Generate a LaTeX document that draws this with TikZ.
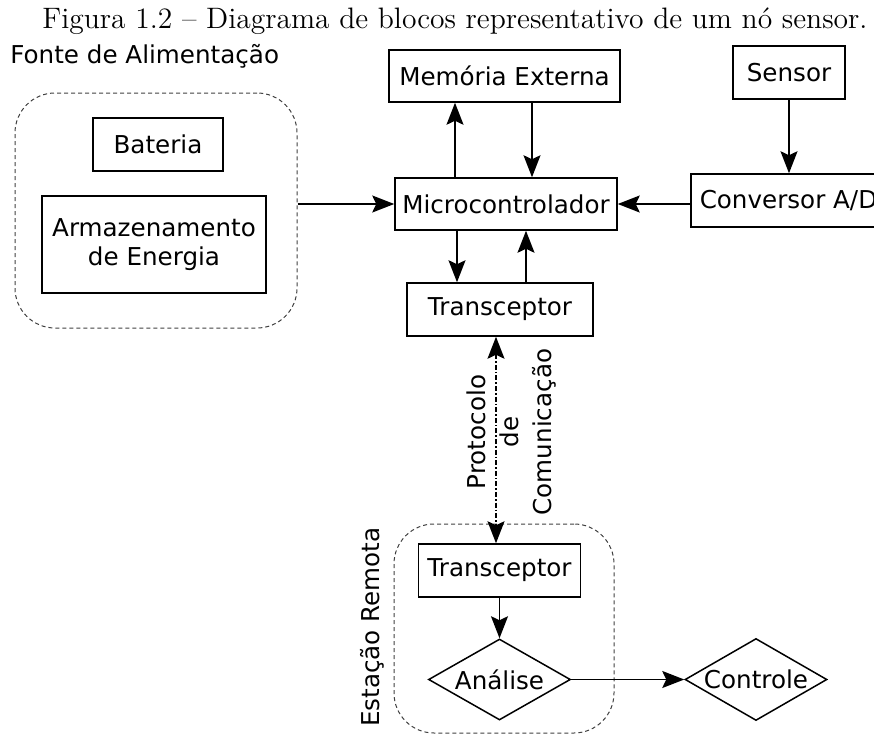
\documentclass[tikz,border=0pt]{standalone}
\usepackage{fontspec}
\usepackage{graphicx}
\usetikzlibrary{arrows.meta,shapes.geometric}
\newfontfamily\dv{DejaVu Sans}
\newcommand\dvf{\dv\fontsize{12.3}{14.5}\selectfont}
\newcommand\dvfp{\dv\fontsize{12.3}{16.5}\selectfont}
\tikzset{
  tip/.tip={Stealth[length=11pt,width=8.5pt,inset=2pt]},
  box/.style={draw, line width=0.75pt, inner sep=0pt, font=\dvf, align=center},
  arr/.style={line width=0.85pt, -tip},
  biarr/.style={line width=0.85pt, tip-tip},
  grp/.style={draw=black!75, line width=0.5pt, dash pattern=on 2pt off 1.5pt, rounded corners=20pt, inner sep=0pt},
  dec/.style={draw, diamond, line width=0.75pt, inner sep=0pt},
}
\begin{document}
\begin{tikzpicture}[x=0.5pt,y=-0.5pt]
\clip (0,0) rectangle (874,734);
% caption
\node[anchor=base, inner sep=0pt] (cap) at (455,28) {\resizebox{412.5pt}{!}{\fontsize{11}{13}\selectfont Figura 1.2 -- Diagrama de blocos representativo de um nó sensor.}};
% power group
\node[font=\dvf, anchor=base west, inner sep=0pt] (fonte) at (10,63) {Fonte de Alimentação};
\node[grp, minimum width=141pt, minimum height=117.5pt] (power) at (156,210.5) {};
\node[box, minimum width=65pt, minimum height=26.5pt] (bat) at (158,144.5) {Bateria};
\node[box, minimum width=112pt, minimum height=48.5pt] (arm) at (154,244.5) {Armazenamento\\de Energia};
% main blocks
\node[box, minimum width=115.5pt, minimum height=26pt] (mem) at (504.5,76) {Memória Externa};
\node[box, minimum width=56pt, minimum height=26.5pt] (sensor) at (789,72.5) {Sensor};
\node[box, minimum width=111pt, minimum height=26pt] (micro) at (506,204) {Microcontrolador};
\node[box, minimum width=97.5pt, minimum height=26.5pt] (conv) at (788.5,200.5) {Conversor A/D};
\node[box, minimum width=93pt, minimum height=26.5pt] (trx) at (500,309.5) {Transceptor};
% remote station
\node[grp, minimum width=110pt, minimum height=104.5pt] (remote) at (504,628.5) {};
\node[font=\dvf, rotate=90] (estacao) at (372,627) {Estação Remota};
\node[box, minimum width=81pt, minimum height=26.5pt] (rtrx) at (499.5,570.5) {Transceptor};
\node[dec, minimum width=71pt, minimum height=40.5pt, label={[font=\dvf]center:Análise}] (ana) at (499.5,679.5) {};
\node[dec, minimum width=71pt, minimum height=41pt, label={[font=\dvf]center:Controle}] (ctl) at (756,679.5) {};
\node[font=\dvfp, rotate=90, align=center] (proto) at (512,432) {Protocolo\\de\\Comunicação};
% connectors
\draw[arr] (power.east |- micro.west) -- (micro.west);
\draw[arr] ([xshift=-25.5pt]micro.north) -- ([xshift=-25.5pt]micro.north |- mem.south);
\draw[arr] ([xshift=13pt]micro.north |- mem.south) -- ([xshift=13pt]micro.north);
\draw[arr] (sensor.south) -- (sensor.south |- conv.north);
\draw[arr] (conv.west |- micro.east) -- (micro.east);
\draw[arr] ([xshift=-21.5pt]trx.north |- micro.south) -- ([xshift=-21.5pt]trx.north);
\draw[arr] ([xshift=13pt]trx.north) -- ([xshift=13pt]trx.north |- micro.south);
\draw[biarr, dash pattern=on 2.5pt off 1pt on 0.8pt off 1pt] ([xshift=-1.75pt]rtrx.north |- trx.south) -- ([xshift=-1.75pt]rtrx.north);
\draw[arr] (rtrx.south) -- (ana.north);
\draw[arr] (ana.east) -- (ctl.west);
\end{tikzpicture}
\end{document}
